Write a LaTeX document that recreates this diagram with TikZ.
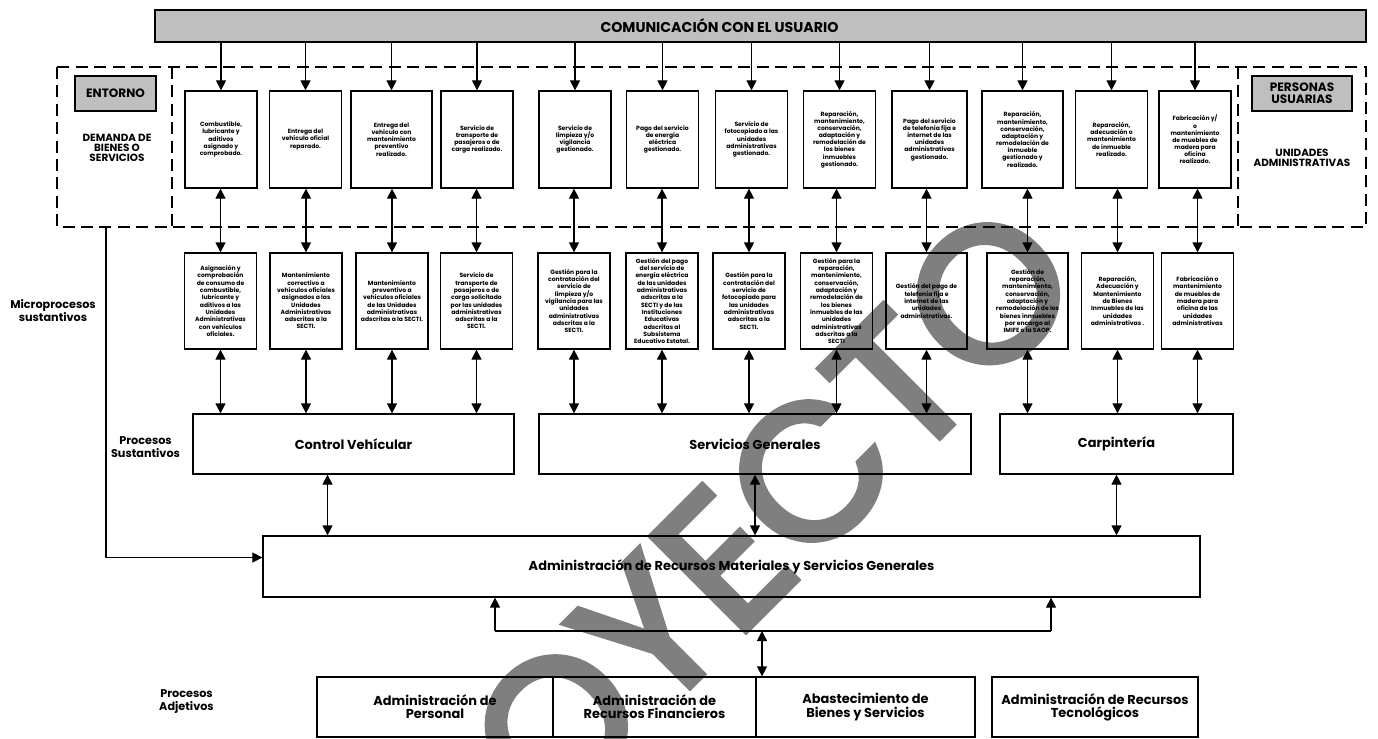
\documentclass[tikz,border=0pt]{standalone}
\usepackage{fontspec}
\setmainfont{Poppins}
\newfontfamily\marcafont[FakeBold=3.5]{Poppins}
\usetikzlibrary{arrows.meta}

\begin{document}
\begin{tikzpicture}[x=0.25mm, y=-0.25mm,
    outbox/.style={draw, line width=0.9pt, minimum width=18mm, minimum height=24.25mm, inner sep=1pt, align=center, font=\fontsize{4.3}{5.1}\selectfont\bfseries},
    microbox/.style={draw, line width=0.9pt, minimum width=18mm, minimum height=24mm, inner sep=1pt, align=center, font=\fontsize{4.3}{5.2}\selectfont\bfseries},
    procbox/.style={draw, line width=0.9pt, minimum height=15mm, align=center, font=\fontsize{9.2}{10}\selectfont\bfseries},
    adjbox/.style={draw, line width=0.9pt, minimum height=15mm, align=center, font=\fontsize{9.2}{9.4}\selectfont\bfseries},
    graybox/.style={draw, line width=1pt, fill=black!25, minimum height=8.75mm, align=center, font=\fontsize{8.6}{8.4}\selectfont\bfseries},
    sidelabel/.style={align=center, font=\fontsize{8}{9.2}\selectfont\bfseries},
    arr/.style={line width=0.9pt, -{Triangle[width=2.5mm, length=2.5mm]}},
    dbl/.style={line width=0.9pt, {Triangle[width=2.5mm, length=2.5mm]}-{Triangle[width=2.5mm, length=2.5mm]}},
    frame/.style={line width=0.9pt, dash pattern=on 3mm off 1.6mm}]
    \useasboundingbox (0, 0) rectangle (1378, 738);

    \node[draw, line width=0.9pt, fill=black!25, minimum width=302.75mm, minimum height=8mm, font=\fontsize{10.1}{11}\selectfont\bfseries] (bar) at (760.5, 26) {COMUNICACIÓN CON EL USUARIO\hspace*{20.5mm}};

    \draw[frame] (57, 67) rectangle (1366, 227);
    \draw[frame] (172, 67) -- (172, 227);
    \draw[frame] (1238, 67) -- (1238, 227);
    \coordinate (envout) at (106, 227);

    \node[graybox, minimum width=20.25mm] (entorno) at (115.5, 93.5) {ENTORNO};
    \node[graybox, minimum width=25mm] (usuarias) at (1302, 93.5) {PERSONAS\\USUARIAS};
    \node[sidelabel, font=\fontsize{7.4}{6.9}\selectfont\bfseries] (demanda) at (117, 148) {DEMANDA DE\\BIENES O\\SERVICIOS};
    \node[sidelabel, font=\fontsize{7.4}{7.2}\selectfont\bfseries] (unidades) at (1302, 158) {UNIDADES\\ADMINISTRATIVAS};

    \node[outbox] (t1) at (221, 139.5) {Combustible,\\lubricante y\\aditivos\\asignado y\\comprobado.};
    \node[outbox] (t2) at (305.5, 139.5) {Entrega del\\vehículo oficial\\reparado.};
    \node[outbox, minimum width=20.25mm] (t3) at (391.5, 139.5) {Entrega del\\vehículo con\\mantenimiento\\preventivo\\realizado.};
    \node[outbox] (t4) at (477, 139.5) {Servicio de\\transporte de\\pasajeros o de\\carga realizado.};
    \node[outbox] (t5) at (575, 139.5) {Servicio de\\limpieza y/o\\vigilancia\\gestionado.};
    \node[outbox] (t6) at (662.5, 139.5) {Pago del servicio\\de energía\\eléctrica\\gestionado.};
    \node[outbox] (t7) at (751.5, 139.5) {Servicio de\\fotocopiado a las\\unidades\\administrativas\\gestionado.};
    \node[outbox] (t8) at (839.5, 139.5) {Reparación,\\mantenimiento,\\conservación,\\adaptación y\\remodelación de\\los bienes\\inmuebles\\gestionado.};
    \node[outbox, minimum width=18.75mm] (t9) at (929.5, 139.5) {Pago del servicio\\de telefonía fija e\\internet de las\\unidades\\administrativas\\gestionado.};
    \node[outbox, minimum width=20.25mm] (t10) at (1022.5, 139.5) {Reparación,\\mantenimiento,\\conservación,\\adaptación y\\remodelación de\\inmueble\\gestionado y\\realizado.};
    \node[outbox] (t11) at (1111.5, 139.5) {Reparación,\\adecuación o\\mantenimiento\\de inmueble\\realizado.};
    \node[outbox] (t12) at (1195, 139.5) {Fabricación y/\\o\\mantenimiento\\de muebles de\\madera para\\oficina\\realizado.};

    \node[microbox] (m1) at (220.5, 301) {Asignación y\\comprobación\\de consumo de\\combustible,\\lubricante y\\aditivos a las\\Unidades\\Administrativas\\con vehículos\\oficiales.};
    \node[microbox] (m2) at (306, 301) {Mantenimiento\\correctivo a\\vehículos oficiales\\asignados a las\\Unidades\\Administrativas\\adscritas a la\\SECTI.};
    \node[microbox] (m3) at (392, 301) {Mantenimiento\\preventivo a\\vehículos oficiales\\de las Unidades\\administrativas\\adscritas a la SECTI.};
    \node[microbox] (m4) at (476.5, 301) {Servicio de\\transporte de\\pasajeros o de\\carga solicitado\\por las unidades\\administrativas\\adscritas a la\\SECTI.};
    \node[microbox] (m5) at (574, 301) {Gestión para la\\contratación del\\servicio de\\limpieza y/o\\vigilancia para las\\unidades\\administrativas\\adscritas a la\\SECTI.};
    \node[microbox] (m6) at (662, 301) {Gestión del pago\\del servicio de\\energía eléctrica\\de las unidades\\administrativas\\adscritas a la\\SECTI y de las\\Instituciones\\Educativas\\adscritas al\\Subsistema\\Educativo Estatal.};
    \node[microbox] (m7) at (749, 301) {Gestión para la\\contratación del\\servicio de\\fotocopiado para\\las unidades\\administrativas\\adscritas a la\\SECTI.};
    \node[microbox] (m8) at (836.5, 301) {Gestión para la\\reparación,\\mantenimiento,\\conservación,\\adaptación y\\remodelación de\\los bienes\\inmuebles de las\\unidades\\administrativas\\adscritas a la\\SECTI};
    \node[microbox, minimum width=20.25mm] (m9) at (926.5, 301) {Gestión del pago de\\telefonía fija e\\internet de las\\unidades\\administrativas.};
    \node[microbox, minimum width=20.25mm] (m10) at (1027.5, 301) {Gestión de\\reparación,\\mantenimiento,\\conservación,\\adaptación y\\remodelación de los\\bienes inmuebles\\por encargo al\\IMIFE o la SAOP.};
    \node[microbox] (m11) at (1117.5, 301) {Reparación,\\Adecuación y\\Mantenimiento\\de Bienes\\Inmuebles de las\\unidades\\administrativas .};
    \node[microbox] (m12) at (1197.5, 301) {Fabricación o\\mantenimiento\\de muebles de\\madera para\\oficina de las\\unidades\\administrativas};

    \node[procbox, minimum width=80.25mm] (cv) at (353.5, 444) {Control Vehícular};
    \node[procbox, minimum width=108mm] (sg) at (755, 444) {Servicios Generales};
    \node[procbox, minimum width=58.25mm] (carp) at (1116.5, 444) {Carpintería};

    \node[procbox, minimum width=234.25mm, minimum height=15.25mm] (adm) at (731.5, 566.5) {Administración de Recursos Materiales y Servicios Generales};

    \node[adjbox, minimum width=59mm] (ap) at (435, 707) {Administración de\\Personal};
    \node[adjbox, minimum width=50.75mm] (arf) at (654.5, 707) {Administración de\\Recursos Financieros};
    \node[adjbox, minimum width=54.75mm] (ab) at (865.5, 707) {Abastecimiento de\\Bienes y Servicios};
    \node[adjbox, minimum width=51.5mm] (art) at (1095, 707) {Administración de Recursos\\Tecnológicos};

    \node[sidelabel] (micro) at (53, 311) {Microprocesos\\sustantivos};
    \node[sidelabel] (sust) at (145.5, 447) {Procesos\\Sustantivos};
    \node[sidelabel] (adj) at (186.5, 702) {Procesos\\Adjetivos};

    \draw[arr] (t1 |- bar.south) -- (t1.north);
    \draw[arr] (t2 |- bar.south) -- (t2.north);
    \draw[arr] (t3 |- bar.south) -- (t3.north);
    \draw[arr] (t4 |- bar.south) -- (t4.north);
    \draw[arr] (t5 |- bar.south) -- (t5.north);
    \draw[arr] (t6 |- bar.south) -- (t6.north);
    \draw[arr] (t7 |- bar.south) -- (t7.north);
    \draw[arr] (t8 |- bar.south) -- (t8.north);
    \draw[arr] (t9 |- bar.south) -- (t9.north);
    \draw[arr] (t10 |- bar.south) -- (t10.north);
    \draw[arr] (t11 |- bar.south) -- (t11.north);
    \draw[arr] (t12 |- bar.south) -- (t12.north);

    \draw[dbl] (m1.north) -- (m1.north |- t1.south);
    \draw[dbl] (m2.north) -- (m2.north |- t2.south);
    \draw[dbl] (m3.north) -- (m3.north |- t3.south);
    \draw[dbl] (m4.north) -- (m4.north |- t4.south);
    \draw[dbl] (m5.north) -- (m5.north |- t5.south);
    \draw[dbl] (m6.north) -- (m6.north |- t6.south);
    \draw[dbl] (m7.north) -- (m7.north |- t7.south);
    \draw[dbl] (m8.north) -- (m8.north |- t8.south);
    \draw[dbl] (m9.north) -- (m9.north |- t9.south);
    \draw[dbl] (m10.north) -- (m10.north |- t10.south);
    \draw[dbl] (m11.north) -- (m11.north |- t11.south);
    \draw[dbl] (m12.north) -- (m12.north |- t12.south);

    \draw[dbl] (m1.south) -- (m1.south |- cv.north);
    \draw[dbl] (m2.south) -- (m2.south |- cv.north);
    \draw[dbl] (m3.south) -- (m3.south |- cv.north);
    \draw[dbl] (m4.south) -- (m4.south |- cv.north);
    \draw[dbl] (m5.south) -- (m5.south |- sg.north);
    \draw[dbl] (m6.south) -- (m6.south |- sg.north);
    \draw[dbl] (m7.south) -- (m7.south |- sg.north);
    \draw[dbl] (m8.south) -- (m8.south |- sg.north);
    \draw[dbl] (m9.south) -- (m9.south |- sg.north);
    \draw[dbl] (m10.south) -- (m10.south |- carp.north);
    \draw[dbl] (m11.south) -- (m11.south |- carp.north);
    \draw[dbl] (m12.south) -- (m12.south |- carp.north);

    \draw[dbl] ([xshift=-6.5mm]cv.south) -- ([xshift=-6.5mm]cv.south |- adm.north);
    \draw[dbl] (sg.south) -- (sg.south |- adm.north);
    \draw[dbl] (carp.south) -- (carp.south |- adm.north);

    \draw[arr] (envout) |- ([yshift=2.25mm]adm.west);

    \coordinate (jl) at (495, 631);
    \coordinate (jr) at (1051, 631);
    \coordinate (jm) at (762, 631);
    \draw[line width=0.9pt] (jl) -- (jr);
    \draw[arr] (jl) -- (jl |- adm.south);
    \draw[arr] (jr) -- (jr |- adm.south);
    \draw[dbl] (jm) -- (jm |- ab.north);

    \begin{scope}[transparency group, opacity=0.5]
        \node[rotate=45, text=black, font=\fontsize{136}{136}\marcafont] (marca) at (692, 590) {PROYECTO};
    \end{scope}
\end{tikzpicture}
\end{document}
